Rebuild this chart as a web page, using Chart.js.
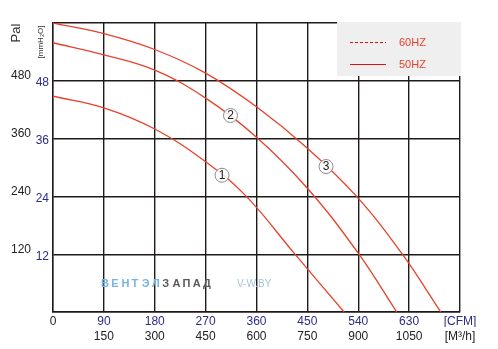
<!DOCTYPE html>
<html lang="ru">
<head>
<meta charset="UTF-8">
<title>Fan curve</title>
<script src="https://cdn.jsdelivr.net/npm/chart.js"></script>
<style>
    body { margin: 0; padding: 0; background: #fff; }
    #wrap { width: 498px; height: 349px; }
</style>
</head>
<body>
<div id="wrap"><canvas id="fanChart" width="498" height="349"></canvas></div>
<script>
// curve values: flow in CFM, pressure in mmH2O
const flow1 = [0, 90, 180, 270, 342, 428, 515];
const press1 = [44.8, 42.4, 38.0, 31.2, 24, 12, 0];
const flow2 = [0, 90, 180, 270, 360, 450, 540, 608];
const press2 = [55.9, 53.4, 50.2, 44.4, 36.3, 25.7, 12.2, 0];
const flow3 = [0, 90, 180, 270, 360, 450, 537, 618, 686];
const press3 = [60, 57.8, 54.5, 49.6, 42.6, 34, 24, 12, 0];

// axis ticks
const cfmTicks = [0, 90, 180, 270, 360, 450, 540, 630, 720];
const m3hTicks = [0, 150, 300, 450, 600, 750, 900, 1050, 1200];
const mmTicks = [0, 12, 24, 36, 48, 60];
const paTicks = [0, 120, 240, 360, 480, 600];
const legendNames = ['60HZ', '50HZ'];
const curveNames = ['1', '2', '3'];
const curveMarks = [[299, 28.4], [314, 40.8], [483, 30.2]];

const RED = '#e8402a';
const GRID = '#1e1a1a';
const BLUE = '#2b2b8c';
const FONT = "'Liberation Sans', Arial, sans-serif";

function toPoints(xs, ys) {
    return xs.map((x, i) => ({ x: x, y: ys[i] }));
}

function fixBox(w, h) {
    return function (scale) {
        if (w !== null) scale.width = w;
        if (h !== null) scale.height = h;
        scale.paddingTop = 0;
        scale.paddingBottom = 0;
        scale.paddingLeft = 0;
        scale.paddingRight = 0;
    };
}

// legend box, titles, curve numbers and watermark
const extras = {
    id: 'extras',
    beforeDatasetsDraw(chart) {
        const ctx = chart.ctx;
        const a = chart.chartArea;
        ctx.save();
        ctx.fillStyle = '#eeefee';
        ctx.fillRect(337, a.top - 1, a.right - 337 + 1, 76 - a.top + 1);

        ctx.strokeStyle = '#e01010';
        ctx.lineWidth = 1.2;
        ctx.setLineDash([3, 2]);
        ctx.beginPath(); ctx.moveTo(350, 42.5); ctx.lineTo(386, 42.5); ctx.stroke();
        ctx.setLineDash([]);
        ctx.beginPath(); ctx.moveTo(350, 64.5); ctx.lineTo(386, 64.5); ctx.stroke();
        ctx.fillStyle = '#e8402a';
        ctx.font = '11px ' + FONT;
        ctx.textBaseline = 'middle';
        ctx.textAlign = 'left';
        ctx.fillText(legendNames[0], 399, 43);
        ctx.fillText(legendNames[1], 399, 65);

        // watermark
        ctx.font = 'bold 11px ' + FONT;
        const word = 'ВЕНТЭЛЗАПАД';
        for (let i = 0; i < word.length; i++) {
            ctx.fillStyle = i < 6 ? '#78b4e0' : '#5a5a5a';
            ctx.fillText(word[i], 101 + i * 10.2, 284);
        }
        ctx.font = '10px ' + FONT;
        ctx.fillStyle = '#a8c4dc';
        ctx.fillText('V-W.BY', 237, 284);
        ctx.restore();
    },
    afterDatasetsDraw(chart) {
        const ctx = chart.ctx;
        const sx = chart.scales.x, sy = chart.scales.y;
        ctx.save();
        curveMarks.forEach((m, i) => {
            const px = sx.getPixelForValue(m[0]);
            const py = sy.getPixelForValue(m[1]);
            ctx.fillStyle = 'rgba(255,255,255,0.85)';
            ctx.strokeStyle = '#8a8a8a';
            ctx.lineWidth = 1;
            ctx.beginPath(); ctx.arc(px, py, 7, 0, Math.PI * 2); ctx.fill(); ctx.stroke();
            ctx.fillStyle = '#222';
            ctx.font = '12px ' + FONT;
            ctx.textAlign = 'center';
            ctx.textBaseline = 'middle';
            ctx.fillText(curveNames[i], px, py + 0.5);
        });

        // axis titles
        ctx.fillStyle = '#333';
        ctx.save();
        ctx.translate(16, 33);
        ctx.rotate(-Math.PI / 2);
        ctx.font = '13px ' + FONT;
        ctx.fillText('Pal', 0, 0);
        ctx.restore();
        ctx.save();
        ctx.translate(41, 42);
        ctx.rotate(-Math.PI / 2);
        ctx.font = '8px ' + FONT;
        ctx.fillText('[mmH₂O]', 0, 0);
        ctx.restore();
        ctx.restore();
    }
};

const lineStyle = {
    borderColor: RED,
    borderWidth: 1.3,
    pointRadius: 0,
    fill: false,
    tension: 0.4,
    xAxisID: 'x',
    yAxisID: 'y'
};

new Chart(document.getElementById('fanChart'), {
    type: 'line',
    data: {
        datasets: [
            Object.assign({ label: curveNames[0], data: toPoints(flow1, press1) }, lineStyle),
            Object.assign({ label: curveNames[1], data: toPoints(flow2, press2) }, lineStyle),
            Object.assign({ label: curveNames[2], data: toPoints(flow3, press3) }, lineStyle)
        ]
    },
    options: {
        responsive: false,
        animation: false,
        layout: { padding: { top: 23, right: 38, left: 0, bottom: 0 } },
        plugins: { legend: { display: false }, tooltip: { enabled: false } },
        scales: {
            x: {
                type: 'linear', position: 'bottom', weight: 0,
                min: 0, max: 720,
                afterBuildTicks: s => { s.ticks = cfmTicks.map(v => ({ value: v })); },
                afterFit: fixBox(null, 15),
                grid: { color: GRID, lineWidth: 1.4, drawTicks: false },
                border: { color: GRID, width: 1.4 },
                ticks: {
                    padding: 2,
                    maxRotation: 0,
                    font: { size: 12, family: FONT },
                    color: c => (c.tick && c.tick.value === 0) ? '#222' : BLUE,
                    callback: v => v === 720 ? '[CFM]' : String(v)
                }
            },
            x2: {
                type: 'linear', position: 'bottom', weight: 1,
                min: 0, max: 1200,
                afterBuildTicks: s => { s.ticks = m3hTicks.map(v => ({ value: v })); },
                afterFit: fixBox(null, 22),
                grid: { display: false, drawTicks: false },
                border: { display: false },
                ticks: {
                    padding: 2,
                    maxRotation: 0,
                    font: { size: 12, family: FONT },
                    color: '#222',
                    callback: v => v === 0 ? '' : (v === 1200 ? '[M³/h]' : String(v))
                }
            },
            y: {
                type: 'linear', position: 'left', weight: 0,
                min: 0, max: 60,
                afterBuildTicks: s => { s.ticks = mmTicks.map(v => ({ value: v })); },
                afterFit: fixBox(18, null),
                grid: { color: GRID, lineWidth: 1.4, drawTicks: false },
                border: { color: GRID, width: 1.4 },
                ticks: {
                    padding: 4,
                    labelOffset: 2,
                    font: { size: 12, family: FONT },
                    color: BLUE,
                    callback: v => (v === 0 || v === 60) ? '' : String(v)
                }
            },
            y2: {
                type: 'linear', position: 'left', weight: 1,
                min: 0, max: 600,
                afterBuildTicks: s => { s.ticks = paTicks.map(v => ({ value: v })); },
                afterFit: fixBox(35, null),
                grid: { display: false, drawTicks: false },
                border: { display: false },
                ticks: {
                    padding: 4,
                    labelOffset: -5,
                    font: { size: 12, family: FONT },
                    color: '#222',
                    callback: v => (v === 0 || v === 600) ? '' : String(v)
                }
            }
        }
    },
    plugins: [extras]
});
</script>
</body>
</html>
